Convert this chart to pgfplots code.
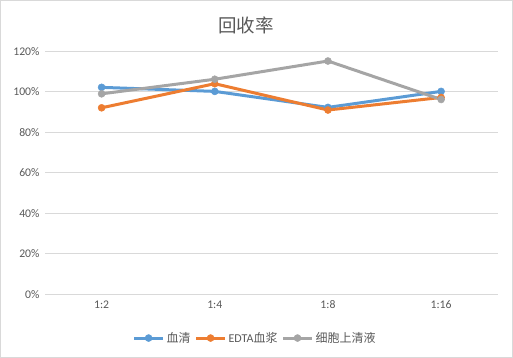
\documentclass[border=0pt]{standalone}
\usepackage{fontspec}
\setmainfont{Carlito}
\newfontfamily\cjk{Noto Sans CJK SC}
\usepackage{pgfplots}
\pgfplotsset{compat=1.18}
\definecolor{cblue}{HTML}{5B9BD5}
\definecolor{corange}{HTML}{ED7D31}
\definecolor{cgray}{HTML}{A5A5A5}
\definecolor{ctext}{HTML}{595959}
\definecolor{cgrid}{HTML}{D9D9D9}
\begin{document}
\begin{tikzpicture}
\begin{axis}[
  scale only axis, width=452.7bp, height=243bp,
  xmin=-0.5, xmax=3.5, ymin=0, ymax=1.2,
  axis line style={draw=none},
  tick style={draw=none},
  ymajorgrids, grid style={cgrid, line width=0.75bp},
  ytick={0,0.2,0.4,0.6,0.8,1.0,1.2},
  yticklabels={0\%,20\%,40\%,60\%,80\%,100\%,120\%},
  xtick={0,1,2,3},
  xticklabels={1:2,1:4,1:8,1:16},
  ticklabel style={font=\fontsize{11.7bp}{14bp}\selectfont, text=ctext},
  yticklabel style={xshift=-2bp},
  xticklabel style={yshift=-3bp},
  title={\cjk 回收率},
  title style={at={(0.444,1.0835)}, anchor=center, font=\fontsize{18.5bp}{22bp}\selectfont, text=ctext},
  legend style={at={(0.464,-0.18)}, anchor=center, draw=none, fill=none,
    font=\fontsize{12bp}{14bp}\selectfont, text=ctext, legend columns=-1,
    /tikz/every even column/.append style={column sep=2bp},
    inner sep=0pt},
  legend image code/.code={\draw[mark repeat=2,mark phase=2,#1] plot coordinates {(0bp,0bp) (14.5bp,0bp) (29bp,0bp)};},
  every axis plot/.append style={line width=3bp, mark=*, mark size=3.5bp},
  clip=false,
]
\addplot[cblue, mark options={fill=cblue, draw=cblue, line width=0.5bp}] coordinates {(0,1.022) (1,1.002) (2,0.923) (3,1.002)};
\addlegendentry{\cjk 血清}
\addplot[corange, mark options={fill=corange, draw=corange, line width=0.5bp}] coordinates {(0,0.921) (1,1.040) (2,0.910) (3,0.972)};
\addlegendentry{EDTA\cjk 血浆}
\addplot[cgray, mark options={fill=cgray, draw=cgray, line width=0.5bp}] coordinates {(0,0.990) (1,1.062) (2,1.152) (3,0.962)};
\addlegendentry{\cjk 细胞上清液}
\coordinate (LL) at (rel axis cs:0,0);
\end{axis}
\pgfresetboundingbox
\path (LL) ++(-45bp,-63.7bp) coordinate (BL);
\path[use as bounding box] (BL) rectangle ++(513bp,358bp);
\draw[cgrid, line width=1bp] ([shift={(0.5bp,0.5bp)}]BL) rectangle ++(511.5bp,357bp);
\end{tikzpicture}
\end{document}
